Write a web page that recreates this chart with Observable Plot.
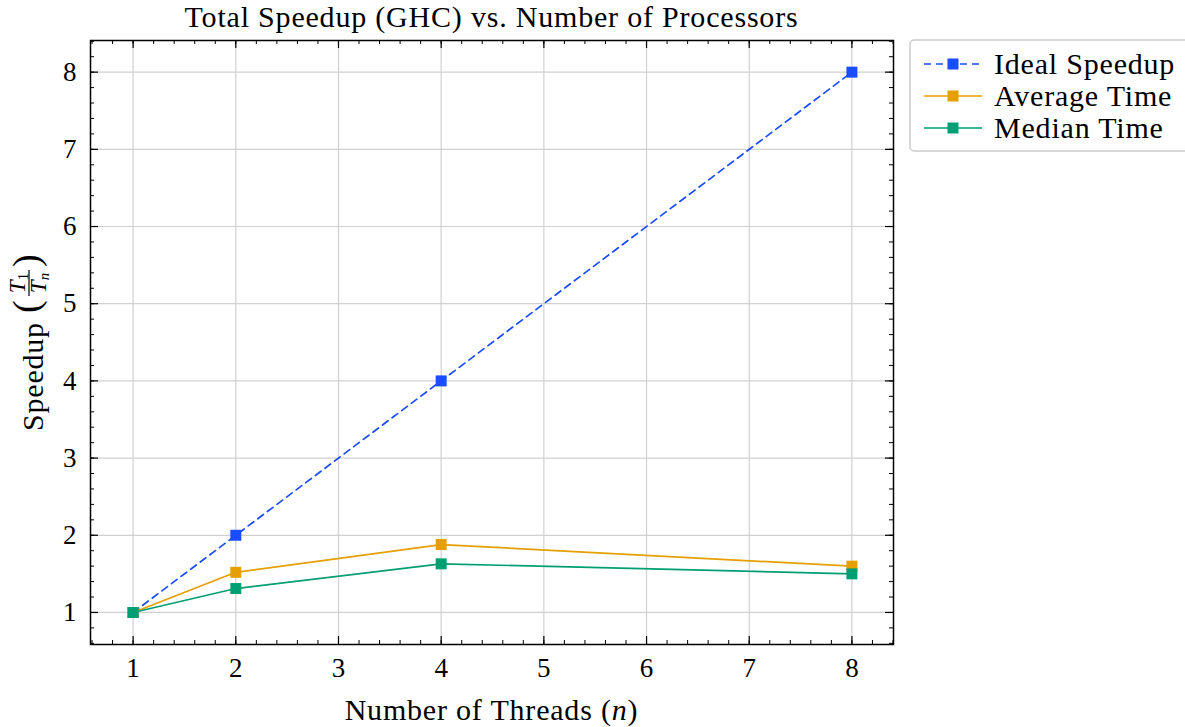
<!DOCTYPE html>
<html><head><meta charset="utf-8">
<script src="https://cdn.jsdelivr.net/npm/d3@7"></script>
<script src="https://cdn.jsdelivr.net/npm/@observablehq/plot@0.6"></script>
<style>body{margin:0;background:#fff}#chart{width:1185px;height:727px}</style>
</head><body><div id="chart"></div>
<script>
const threads = [1, 2, 4, 8];
const idealSpeedup = [1, 2, 4, 8];
const averageSpeedup = [1, 1.52, 1.88, 1.60];
const medianSpeedup = [1, 1.31, 1.63, 1.50];
const seriesNames = ["Ideal Speedup", "Average Time", "Median Time"];
const seriesColors = ["#1a4dfd", "#e69f00", "#009e73"];
const seriesDash = ["7,5", null, null];
const xTicks = [1, 2, 3, 4, 5, 6, 7, 8];
const yTicks = [1, 2, 3, 4, 5, 6, 7, 8];
const titleText = "Total Speedup (GHC) vs. Number of Processors";
const xLabelText = "Number of Threads (";
const yLabelText = "Speedup";

const seriesValues = [idealSpeedup, averageSpeedup, medianSpeedup];
const rows = [];
seriesValues.forEach((vals, i) => threads.forEach((t, j) => rows.push({series: seriesNames[i], n: t, s: vals[j]})));

const W = 1185, H = 727, mL = 90, mR = 292, mT = 40, mB = 83;
const plotW = W - mL - mR, plotH = H - mT - mB;
const xDomain = [0.585, 8.405], yDomain = [0.585, 8.41];
const minorTicks = d3.range(3, 43).map(i => i / 5);
const FONT = "'Liberation Serif', 'DejaVu Serif', serif";
const LS = "0.8px";

const marks = [
  Plot.gridX(xTicks, {stroke: "#d0d0d0", strokeOpacity: 1, strokeWidth: 1.2}),
  Plot.gridY(yTicks, {stroke: "#d0d0d0", strokeOpacity: 1, strokeWidth: 1.2}),
  Plot.tickX(minorTicks, {x: d => d, insetTop: plotH - 4, stroke: "#000", strokeWidth: 1}),
  Plot.tickX(minorTicks, {x: d => d, insetBottom: plotH - 4, stroke: "#000", strokeWidth: 1}),
  Plot.tickY(minorTicks, {y: d => d, insetRight: plotW - 4, stroke: "#000", strokeWidth: 1}),
  Plot.tickY(minorTicks, {y: d => d, insetLeft: plotW - 4, stroke: "#000", strokeWidth: 1}),
  Plot.tickX(xTicks, {x: d => d, insetTop: plotH - 8, stroke: "#000", strokeWidth: 1.2}),
  Plot.tickX(xTicks, {x: d => d, insetBottom: plotH - 8, stroke: "#000", strokeWidth: 1.2}),
  Plot.tickY(yTicks, {y: d => d, insetRight: plotW - 8, stroke: "#000", strokeWidth: 1.2}),
  Plot.tickY(yTicks, {y: d => d, insetLeft: plotW - 8, stroke: "#000", strokeWidth: 1.2}),
  Plot.frame({stroke: "#000", strokeWidth: 1.5}),
  Plot.axisX(xTicks, {tickSize: 0, tickPadding: 13, fontSize: 27, label: null, fill: "#000", tickFormat: d => String(d)}),
  Plot.axisY(yTicks, {tickSize: 0, tickPadding: 14, fontSize: 27, label: null, fill: "#000", tickFormat: d => String(d)})
];
seriesNames.forEach((name, i) => {
  const data = rows.filter(r => r.series === name);
  marks.push(Plot.line(data, {x: "n", y: "s", stroke: seriesColors[i], strokeWidth: 1.7, strokeDasharray: seriesDash[i] || undefined}));
  marks.push(Plot.dot(data, {x: "n", y: "s", symbol: "square", r: 6.2, fill: seriesColors[i], stroke: "none"}));
});

const chart = Plot.plot({
  width: W, height: H,
  marginLeft: mL, marginRight: mR, marginTop: mT, marginBottom: mB,
  x: {domain: xDomain, axis: null},
  y: {domain: yDomain, axis: null},
  style: {fontFamily: FONT, fontSize: "27px", color: "#000", background: "#fff", overflow: "visible"},
  marks
});
document.getElementById("chart").appendChild(chart);

const svg = d3.select(chart);
const cx = mL + plotW / 2;
// title
svg.append("text").attr("x", cx).attr("y", 27).attr("text-anchor", "middle")
  .attr("font-family", FONT).attr("font-size", 30).attr("letter-spacing", LS).text(titleText);
// x label
const xl = svg.append("text").attr("x", cx).attr("y", 720).attr("text-anchor", "middle")
  .attr("font-family", FONT).attr("font-size", 30).attr("letter-spacing", LS);
xl.append("tspan").text(xLabelText);
xl.append("tspan").attr("font-style", "italic").text("n");
xl.append("tspan").text(")");
// y label with fraction
const yg = svg.append("g").attr("transform", `translate(43,345) rotate(-90)`)
  .attr("font-family", FONT).attr("fill", "#000").attr("text-anchor", "start");
yg.append("text").attr("x", -86).attr("y", 0).attr("font-size", 30).attr("letter-spacing", LS).text(yLabelText);
yg.append("text").attr("x", 32).attr("y", -4).attr("font-size", 38).text("(");
const fx = 62;
const num = yg.append("text").attr("x", fx).attr("y", -18).attr("text-anchor", "middle").attr("font-size", 23);
num.append("tspan").attr("font-style", "italic").text("T");
num.append("tspan").attr("font-size", 15).attr("dy", 3).text("1");
yg.append("line").attr("x1", fx - 13).attr("x2", fx + 13).attr("y1", -14).attr("y2", -14).attr("stroke", "#000").attr("stroke-width", 1.2);
const den = yg.append("text").attr("x", fx).attr("y", 3).attr("text-anchor", "middle").attr("font-size", 23);
den.append("tspan").attr("font-style", "italic").text("T");
den.append("tspan").attr("font-style", "italic").attr("font-size", 15).attr("dy", 3).text("n");
yg.append("text").attr("x", 78).attr("y", -4).attr("font-size", 38).text(")");

// legend
const lg = svg.append("g").attr("font-family", FONT).attr("text-anchor", "start");
lg.append("rect").attr("x", 910).attr("y", 40).attr("width", 300).attr("height", 111).attr("rx", 4)
  .attr("fill", "#fff").attr("stroke", "#cccccc").attr("stroke-width", 1.5);
seriesNames.forEach((name, i) => {
  const y = 64 + i * 32;
  lg.append("line").attr("x1", 924).attr("x2", 982).attr("y1", y).attr("y2", y)
    .attr("stroke", seriesColors[i]).attr("stroke-width", 1.7)
    .attr("stroke-dasharray", seriesDash[i] || null);
  lg.append("rect").attr("x", 953 - 5.5).attr("y", y - 5.5).attr("width", 11).attr("height", 11).attr("fill", seriesColors[i]);
  lg.append("text").attr("x", 994).attr("y", y + 10).attr("font-size", 30).attr("letter-spacing", LS).text(name);
});
</script></body></html>
